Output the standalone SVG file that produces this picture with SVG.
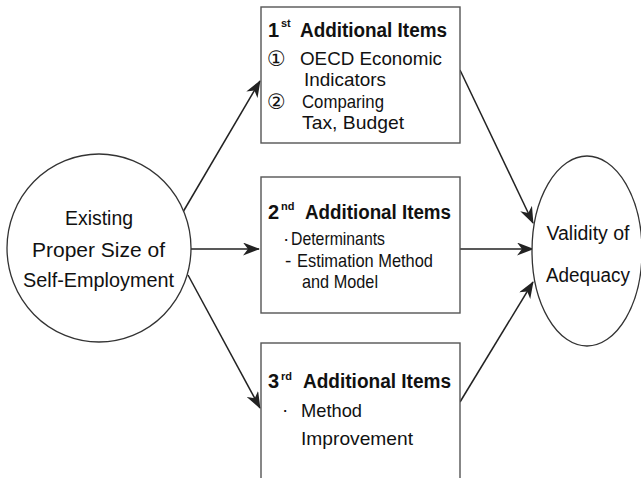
<svg xmlns="http://www.w3.org/2000/svg" width="641" height="478" viewBox="0 0 641 478">
<style>
  .box { fill: #fff; stroke: #555; stroke-width: 1.4; }
  .ell { fill: #fff; stroke: #333; stroke-width: 1.3; }
  .t { font-family: "Liberation Sans", Arial, sans-serif; font-size: 19.5px; fill: #111; }
  .b { font-family: "Liberation Sans", Arial, sans-serif; font-weight: bold; font-size: 20px; fill: #111; }
  .sup { font-family: "Liberation Sans", Arial, sans-serif; font-weight: bold; font-size: 11px; fill: #111; }
  .i { font-family: "Liberation Sans", Arial, sans-serif; font-size: 19px; fill: #111; }
  .c { font-family: "DejaVu Sans", "Noto Sans CJK KR", sans-serif; font-size: 21px; fill: #111; }
  .ln { stroke: #222; stroke-width: 1.5; fill: none; marker-end: url(#ah); }
</style>
<defs>
  <marker id="ah" markerUnits="userSpaceOnUse" markerWidth="17" markerHeight="13" viewBox="0 0 17 13" refX="16" refY="6.5" orient="auto">
    <path d="M0,0 L17,6.5 L0,13 L5,6.5 z" fill="#222"/>
  </marker>
</defs>
<rect width="641" height="478" fill="#fff"/>

<g id="connectors">
  <line class="ln" x1="183" y1="212" x2="260" y2="81"/>
  <line class="ln" x1="191" y1="249" x2="259" y2="249"/>
  <line class="ln" x1="188" y1="275" x2="260" y2="408"/>
  <line class="ln" x1="460" y1="70" x2="533" y2="223"/>
  <line class="ln" x1="460" y1="249" x2="533" y2="249"/>
  <line class="ln" x1="460" y1="402" x2="533" y2="282"/>
</g>

<g id="node-existing">
  <ellipse class="ell" cx="99" cy="248" rx="92" ry="94"/>
  <text class="t" x="99" y="225" text-anchor="middle" textLength="68" lengthAdjust="spacingAndGlyphs">Existing</text>
  <text class="t" x="98.5" y="257" text-anchor="middle" textLength="133" lengthAdjust="spacingAndGlyphs">Proper Size of</text>
  <text class="t" x="98.5" y="287" text-anchor="middle" textLength="151" lengthAdjust="spacingAndGlyphs">Self-Employment</text>
</g>

<g id="node-validity">
  <ellipse class="ell" cx="587" cy="251" rx="55" ry="95"/>
  <text class="t" x="588" y="240" text-anchor="middle" textLength="83" lengthAdjust="spacingAndGlyphs">Validity of</text>
  <text class="t" x="588" y="282" text-anchor="middle" textLength="84" lengthAdjust="spacingAndGlyphs">Adequacy</text>
</g>

<g id="node-first">
  <rect class="box" x="261" y="7" width="199" height="136"/>
  <text class="b" x="268" y="37">1</text>
  <text class="sup" x="281" y="27">st</text>
  <text class="b" x="300" y="37" textLength="147" lengthAdjust="spacingAndGlyphs">Additional  Items</text>
  <text class="c" x="267" y="66">①</text>
  <text class="i" x="300" y="65" textLength="142" lengthAdjust="spacingAndGlyphs">OECD Economic</text>
  <text class="i" x="304" y="86" textLength="82" lengthAdjust="spacingAndGlyphs">Indicators</text>
  <text class="c" x="267" y="109">②</text>
  <text class="i" x="302" y="108" textLength="82" lengthAdjust="spacingAndGlyphs">Comparing</text>
  <text class="i" x="302" y="129" textLength="102" lengthAdjust="spacingAndGlyphs">Tax, Budget</text>
</g>

<g id="node-second">
  <rect class="box" x="261" y="177" width="199" height="136"/>
  <text class="b" x="268" y="219">2</text>
  <text class="sup" x="281" y="210">nd</text>
  <text class="b" x="305" y="219" textLength="146" lengthAdjust="spacingAndGlyphs">Additional  Items</text>
  <text class="i" x="283" y="245">·</text>
  <text class="i" x="291" y="245" textLength="94" lengthAdjust="spacingAndGlyphs">Determinants</text>
  <text class="i" x="285" y="267">-</text>
  <text class="i" x="297" y="267" textLength="136" lengthAdjust="spacingAndGlyphs">Estimation Method</text>
  <text class="i" x="302" y="288" textLength="76" lengthAdjust="spacingAndGlyphs">and Model</text>
</g>

<g id="node-third">
  <rect class="box" x="261" y="343" width="199" height="150"/>
  <text class="b" x="268" y="388">3</text>
  <text class="sup" x="281" y="380">rd</text>
  <text class="b" x="303" y="388" textLength="148" lengthAdjust="spacingAndGlyphs">Additional  Items</text>
  <text class="i" x="282" y="416">·</text>
  <text class="i" x="301" y="417" textLength="61" lengthAdjust="spacingAndGlyphs">Method</text>
  <text class="i" x="301" y="445" textLength="112" lengthAdjust="spacingAndGlyphs">Improvement</text>
</g>
</svg>
